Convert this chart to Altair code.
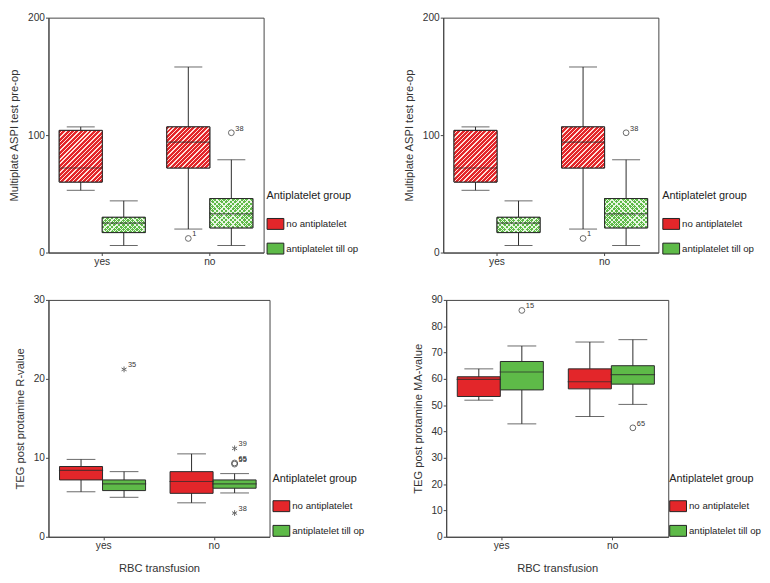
import altair as alt
import pandas as pd

RBC = ["yes", "no"]
GROUPS = ["no antiplatelet", "antiplatelet till op"]
COLORS = ["#e3262a", "#5eba48"]

box_rbc = ["yes", "yes", "no", "no"]
box_group = ["no antiplatelet", "antiplatelet till op", "no antiplatelet", "antiplatelet till op"]

# Multiplate ASPI test pre-op
aspi_lo = [53, 6, 20, 6]
aspi_q1 = [60, 17, 72, 21]
aspi_med = [72, 25, 94, 33]
aspi_q3 = [104, 30, 107, 46]
aspi_hi = [107, 44, 158, 79]
aspi_out_rbc = ["no", "no"]
aspi_out_group = ["no antiplatelet", "antiplatelet till op"]
aspi_out_val = [12, 102]
aspi_out_label = ["1", "38"]
aspi_out_shape = ["circle", "circle"]

# TEG post protamine R-value
r_lo = [5.7, 5.0, 4.3, 5.55]
r_q1 = [7.2, 5.85, 5.5, 6.15]
r_med = [8.4, 6.7, 7.0, 6.7]
r_q3 = [8.9, 7.2, 8.25, 7.2]
r_hi = [9.8, 8.25, 10.5, 8.0]
r_out_rbc = ["yes", "no", "no", "no", "no"]
r_out_group = ["antiplatelet till op"] * 5
r_out_val = [21.2, 11.2, 9.2, 9.35, 3.0]
r_out_label = ["35", "39", "55", "65", "38"]
r_out_shape = ["star", "star", "circle", "circle", "star"]

# TEG post protamine MA-value
ma_lo = [51.9, 42.9, 45.7, 50.3]
ma_q1 = [53.3, 55.8, 56.2, 58.0]
ma_med = [59.8, 62.6, 58.9, 61.6]
ma_q3 = [60.8, 66.6, 63.8, 65.0]
ma_hi = [63.8, 72.5, 74.0, 74.9]
ma_out_rbc = ["yes", "no"]
ma_out_group = ["antiplatelet till op", "antiplatelet till op"]
ma_out_val = [86, 41.4]
ma_out_label = ["15", "65"]
ma_out_shape = ["circle", "circle"]

STAR = "M0,-1L0,1M-0.87,-0.5L0.87,0.5M-0.87,0.5L0.87,-0.5"
LEGEND_SYMBOL = "M-1,-0.65H1V0.65H-1Z"
INK = "#2a2a2a"


def stripes(W, H, base, line, period, lw, diag):
    L = W + H
    k = L / (W * W + H * H)
    if diag == "/":
        x1, y1, x2, y2 = 0, 0, k * W, k * H
    else:
        x1, y1, x2, y2 = 0, 1, k * W, 1 - k * H
    stops = []
    i = 0
    while i * period / L <= 1:
        a = i * period / L
        b = min((i * period + period - lw) / L, 1)
        c = min((i + 1) * period / L, 1)
        stops += [
            alt.GradientStop(offset=a, color=base),
            alt.GradientStop(offset=b, color=base),
            alt.GradientStop(offset=b, color=line),
            alt.GradientStop(offset=c, color=line),
        ]
        i += 1
    return alt.LinearGradient(gradient="linear", stops=stops, x1=x1, y1=y1, x2=x2, y2=y2)


def panel(lo, q1, med, q3, hi, o_rbc, o_grp, o_val, o_lab, o_shape,
          ytitle, ymax, yvals, width, height, xtitle, hatch, legend_x):
    box = pd.DataFrame(dict(rbc=box_rbc, group=box_group, lo=lo, q1=q1,
                            med=med, q3=q3, hi=hi))
    out = pd.DataFrame(dict(rbc=o_rbc, group=o_grp, val=o_val, lab=o_lab,
                            shape=o_shape))
    sub_w = width * 0.2

    xaxis = alt.Axis(labelAngle=0, title=xtitle, titlePadding=12) if xtitle else alt.Axis(labelAngle=0, title=None)
    x = alt.X("rbc:N", sort=RBC,
              scale=alt.Scale(domain=RBC, paddingInner=0.2, paddingOuter=0.1),
              axis=xaxis)
    xo = alt.XOffset("group:N", sort=GROUPS,
                     scale=alt.Scale(domain=GROUPS, paddingInner=0, paddingOuter=0))
    ysc = alt.Scale(domain=[0, ymax], nice=False, zero=True)
    yax = alt.Axis(values=yvals, title=ytitle)

    def Y(f):
        return alt.Y(f"{f}:Q", scale=ysc, axis=yax)

    base = alt.Chart(box)
    whisk = base.mark_rule(color=INK, strokeWidth=1).encode(x=x, xOffset=xo, y=Y("lo"), y2="hi")
    cap_lo = base.mark_tick(color=INK, thickness=1, size=sub_w * 0.65).encode(x=x, xOffset=xo, y=Y("lo"))
    cap_hi = base.mark_tick(color=INK, thickness=1, size=sub_w * 0.65).encode(x=x, xOffset=xo, y=Y("hi"))
    bars = base.mark_bar(stroke=INK, strokeWidth=1).encode(
        x=x, xOffset=xo, y=Y("q1"), y2="q3",
        color=alt.Color("group:N", sort=GROUPS,
                        scale=alt.Scale(domain=GROUPS, range=COLORS),
                        legend=alt.Legend(title="Antiplatelet group", orient="none",
                                          legendX=legend_x, legendY=175)))
    layers = [whisk, cap_lo, cap_hi, bars]
    if hatch:
        for r, g, l1, l3 in zip(box_rbc, box_group, q1, q3):
            H = (l3 - l1) / ymax * height
            filt = (alt.datum.rbc == r) & (alt.datum.group == g)
            if g == GROUPS[0]:
                grads = [stripes(sub_w, H, COLORS[0], "#ffe2dc", 4.4, 1.4, "/")]
            else:
                grads = [stripes(sub_w, H, COLORS[1], "#e8f6e2", 4.6, 1.3, "/"),
                         stripes(sub_w, H, "rgba(255,255,255,0)", "#e8f6e2", 4.6, 1.3, "\\")]
            for gr in grads:
                layers.append(base.mark_bar(fill=gr, strokeWidth=0)
                              .encode(x=x, xOffset=xo, y=Y("q1"), y2="q3")
                              .transform_filter(filt))
        layers.append(base.mark_bar(fillOpacity=0, stroke=INK, strokeWidth=1)
                      .encode(x=x, xOffset=xo, y=Y("q1"), y2="q3"))
    med_t = base.mark_tick(color=INK, thickness=1.2, size=sub_w).encode(x=x, xOffset=xo, y=Y("med"))
    layers.append(med_t)

    ob = alt.Chart(out)
    pts = ob.mark_point(filled=False, color=INK, strokeWidth=1, size=34).encode(
        x=x, xOffset=xo, y=Y("val"),
        shape=alt.Shape("shape:N", scale=alt.Scale(domain=["circle", "star"], range=["circle", STAR]),
                        legend=None))
    labs = ob.mark_text(align="left", baseline="middle", dx=4, dy=-4, fontSize=7.5, color="#333").encode(
        x=x, xOffset=xo, y=Y("val"), text="lab:N")
    layers += [pts, labs]
    return alt.layer(*layers).properties(width=width, height=height)


p1 = panel(aspi_lo, aspi_q1, aspi_med, aspi_q3, aspi_hi, aspi_out_rbc, aspi_out_group,
           aspi_out_val, aspi_out_label, aspi_out_shape,
           "Multiplate ASPI test pre-op", 200, [0, 100, 200], 218, 238, None, True, 221)
p2 = panel(aspi_lo, aspi_q1, aspi_med, aspi_q3, aspi_hi, aspi_out_rbc, aspi_out_group,
           aspi_out_val, aspi_out_label, aspi_out_shape,
           "Multiplate ASPI test pre-op", 200, [0, 100, 200], 218, 238, None, True, 222)
p3 = panel(r_lo, r_q1, r_med, r_q3, r_hi, r_out_rbc, r_out_group,
           r_out_val, r_out_label, r_out_shape,
           "TEG post protamine R-value", 30, [0, 10, 20, 30], 224, 240, "RBC transfusion", False, 227)
p4 = panel(ma_lo, ma_q1, ma_med, ma_q3, ma_hi, ma_out_rbc, ma_out_group,
           ma_out_val, ma_out_label, ma_out_shape,
           "TEG post protamine MA-value", 90, list(range(0, 91, 10)), 225, 240, "RBC transfusion", False, 226)

row1 = alt.hconcat(p1, p2, spacing=44).resolve_scale(color="independent", shape="independent").resolve_legend(color="independent")
row2 = alt.hconcat(p3, p4, spacing=47).resolve_scale(color="independent", shape="independent").resolve_legend(color="independent")

chart = (
    alt.vconcat(row1, row2, spacing=27)
    .resolve_scale(color="independent", shape="independent")
    .resolve_legend(color="independent")
    .properties(padding=0)
    .configure(font="Liberation Sans")
    .configure_view(stroke="#444444", strokeWidth=1)
    .configure_axis(grid=False, domainColor="#444444", tickColor="#444444",
                    labelColor="#333333", titleColor="#333333",
                    labelFontSize=10.3, titleFontSize=11.3, titleFontWeight="normal",
                    tickSize=3, labelPadding=1, titlePadding=8,
                    labelFont="Liberation Sans", titleFont="Liberation Sans")
    .configure_legend(titleFontSize=11, titleFontWeight="normal", titleColor="#222222",
                      labelFontSize=9.8, labelColor="#222222",
                      symbolType=LEGEND_SYMBOL, symbolSize=289,
                      symbolStrokeColor="#222222", symbolStrokeWidth=1,
                      rowPadding=8, titlePadding=14, labelOffset=2, padding=0,
                      titleFont="Liberation Sans", labelFont="Liberation Sans")
)

chart.save("out.html", embed_options={"renderer": "svg", "actions": False})
